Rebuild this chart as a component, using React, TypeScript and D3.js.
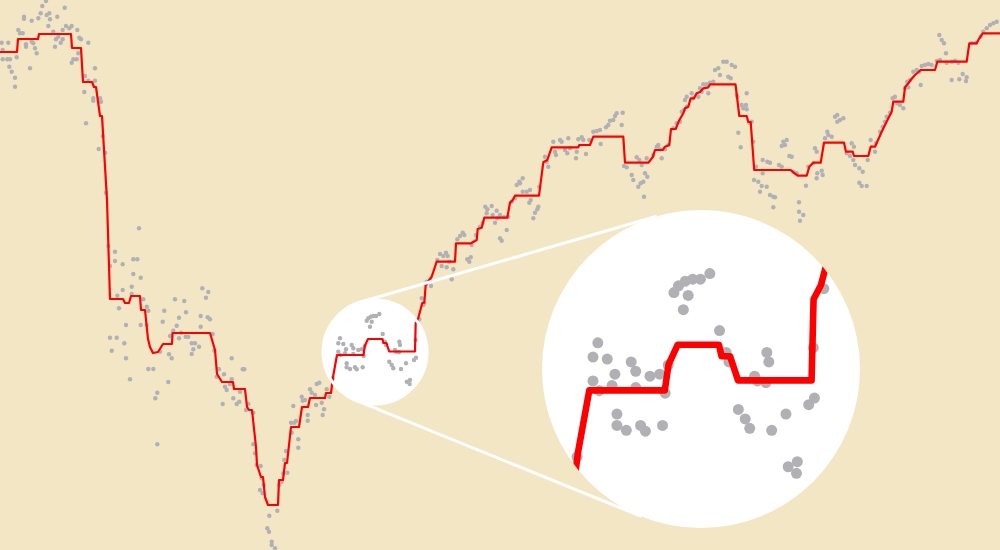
import React from "react";
import * as d3 from "d3";

const W = 1000;
const H = 550;

// Step-like trend line (x = day index, y = depth value)
const trendX = [0,17,18,38,39,71,72,81,83,92,94,96,100,102,107,110,123,125,129,131,140,141,145,148,150,153,158,163,172,172.5,210,215,217,222,233,234,245,247,249,252,256,257,261,263,265,268,278,279,283,285,287,291,299,302,308,310,325,326,331,333,337,363.5,364.8,368,382.5,383.4,386.4,389.2,415,415.7,418.3,422.3,424.3,425.7,431.7,436.7,455,456,471,476.7,477.7,481.7,484.3,507.3,510,512.3,515,539,543.3,547.3,551.7,578.3,579.3,590,593.3,623.3,625,648.3,652.7,655,662.7,665,669.3,671,675.7,679,683.3,685,688.3,690.7,694,696.7,700,703.3,708.3,710,735.5,739.3,746.7,748.3,750.7,754.2,790.7,793.3,797.7,806.7,809.3,813.3,820.7,824,844,846,852.7,854,868.3,870.7,875,881.7,888.3,891.7,893.3,903.3,905,908.3,910.7,915,920.7,935,937.3,966.7,969.3,976.7,979.3,982.7,1000];
const trendY = [52,52,39,39,34,34,48,48,82,82,87,87,116,116,200,299,299,303,303,296,296,310,310,339,347,353,352,344,344,333,333,350,374,382,382,389,389,407,410,410,447,465,477,477,497,505,505,480,480,463,463,427,427,407,407,398,398,393,393,377,355,355,346,339,339,343,343,351.5,351.5,323,318,303,302.7,285,276.7,261.7,261.7,243.3,243.3,240,229,227.7,217.7,217.7,202.7,200.7,195.7,195.7,162.3,160,147.3,147.3,145,145,136.7,136.7,162.7,162.7,157.3,150,150,146.7,145,129,129,120.7,113.3,108.3,106.7,98.3,98.3,93.3,92,88.3,87.3,84.3,84.3,116,116,122,122,170,170,172.3,175.7,175.7,166.7,162.7,162.7,142.7,142.7,151.7,151.7,156,156,146.7,146.7,131.7,118.3,111.7,101.7,101.7,87.3,83.3,80,75,70,70,61.7,61.7,43.3,43.3,38.3,33.3,33.3];

// Scattered observations [x, y]
const observations: [number, number][] = [
  [1.7,42.7],[8.3,42.7],[2.7,50],[2.7,59.3],[7.3,59.3],[10,59.3],[9.3,66.7],[11.7,71.7],[15,77.7],[15,86.7],[16.7,57.3],[18.3,30],[20,33.3],[22.7,33.3],[24,16.7],[24,18.7],[26,44.3],[26,46.7],[30,68.3],[31.7,20.7],[31.7,41.7],[33.3,43.3],[35,48.3],[36.7,53.3],[38.3,18.3],[40.7,13.3],[42.3,6],[46,1],[46.7,15],[49.3,13.3],[50,19.3],[48.3,26],[53.3,31.7],[55,46.7],[56,39.3],[57.3,16.7],[58.3,36.7],[60.7,42.7],[62.7,39.3],[62.7,30],[64.7,7.7],[66,26],[69.3,28.3],[71.7,26],[77.3,30],[79.3,37.7],[81,39.3],[88.3,42.7],[78.3,53.3],[76.7,59.3],[73.3,59.3],[71.7,62.7],[85,76],[95,68.3],[95,80.7],[88.3,80.7],[84.3,92],[93.3,98.3],[93.3,100.7],[100,98.3],[101,101.7],[86,123.3],[102.7,136],[98.7,149],[105.3,152.7],[106,192.7],
  [139,228.3],[108.3,246],[115,251.7],[115,261],[110,266],[122.7,264.3],[133.3,259.3],[137.3,259.3],[133.3,274],[140.7,277.7],[131.7,286.7],[122.7,290],[117.3,295.7],[131.7,294],[143.3,299.3],[119,308.3],[146.7,306.7],[148.3,310.7],[126,325],[140.7,325],[146.7,325],[110,337.7],[116.7,337.7],[111.7,350.7],[124.3,343.3],[126,358.3],[148.3,369],[153.3,369],[130,379.3],[160,351.7],[162.7,321.7],[164.3,310.7],[170,336],[169,354.3],[171.7,358.3],[173.3,330.7],[176.7,325.7],[179,317.7],[175,299.3],[184.3,301],[186,312.3],[179,338.3],[181,332.7],[185.7,336.7],[188.3,336.7],[191.7,343.3],[195,343.3],[193.3,349.3],[191.7,354],[199,346.7],[200.7,326.7],[200.7,316],[207.7,317.3],[210,319.3],[202.3,288.3],[208.3,292],[206,297.7],[212.7,334],[214.3,350.7],[231.7,358.3],[242.7,369.3],[244.3,369.3],[216.7,376.7],[224,374.3],[231.7,379.3],
  [157.3,392.7],[155.3,398.3],[157.3,444.3],[168.3,382],[225,386.7],[226.7,390],[233.3,398.3],[236.7,404],[239.3,401.7],[222.7,404],[248.3,404],[246,410],[253.3,412.7],[253.3,444.3],[255,453.3],[256.7,465],[219,369.3],[218.3,369],[230,384],[240,391.7],
  [260.7,466],[261.7,478.3],[264,485],[260,490],[262.7,493.3],[269.3,515.7],[277.3,510.7],[267.3,528.3],[269,531.7],[271.7,541.7],[271.7,545],[275,548.3],[279.3,485],[281.7,481.7],[283.3,473.3],[287.3,472.7],[284.3,460],[286,451],[291.7,432.7],[298.3,439.3],[298.3,447.7],[291,422.7],[294.3,422.7],[296,421],[293.3,406],[301.7,396.7],[302.7,400.7],[305,400],[307.7,415],[307.7,420.7],[310,389.3],[311.7,392.7],[315,395],[316.7,384],[319.3,382.7],[316,405],[321.7,402.7],[324,409.3],[322.7,415],[326.7,389.3],[329.3,396.7],[332.7,378.3],
  [340,338.3],[338.3,343.3],[343.3,344],[346,349.3],[338.3,351.7],[340.5,355.1],[345,353.3],[351.7,345],[353.3,348.3],[353.3,354],[358.3,350],[361.7,349.3],[346.7,363.3],[346.7,367.3],[350,369],[355,367.3],[356.7,369.3],[362.7,367.3],[363.6,356],[364.7,346.1],[368.3,318.3],[370.7,316.7],[373.3,316],[376,316],[379.3,314],[371.7,321.7],[366.7,320.7],[370,326.7],[382.7,334],[385,341.7],[386,345],[399.3,341.7],[400,345],[399,352.3],[395,350],[396,351.7],[389.3,361.7],[391.7,365],[393.3,368.3],[401,369],[406,363.3],[414,360],[416,357.7],[406.8,381.8],[409.7,384.1],[410,380],[415.6,340],[423.3,305],[421.7,298.3],[419.3,319.3],
  [424,303.3],[426.7,281.7],[426,284],[431,286],[430,280],[451.7,279.3],[437.3,260],[440,254],[443.3,256],[446,252.7],[447.7,256],[441.7,266],[446.7,267.3],[453.3,269.3],[449.3,261.7],[457.3,239.3],[460,236],[462.7,232.7],[464.3,235],[467.3,259.3],[469.3,261.7],[470.7,257.3],[471.7,245],[476,235],[480,226.7],[482.7,222.7],[485.3,206.7],[487.3,209.3],[491.7,206],[486.7,213.3],[492.7,215],[496.7,210.7],[497.3,218.3],[500,215],[504,217.3],[508.3,216.7],[495,222.7],[506.7,230],[500,238.3],[501.7,240.7],[511.7,201.7],[515,198.3],[516.7,185],[520,183.3],[522.7,191.7],[526.7,191.7],[530,190],[530.7,200],[529.3,202.7],[537.3,209.3],[535,212.7],[533.3,218.3],[538.3,206.7],[519.3,181.7],[522.7,178.3],
  [539.3,186.7],[545,156.7],[546.7,161.7],[548.3,166.7],[553.3,141.7],[555,151.7],[556,155],[560,140],[561.7,141.7],[565,150],[567.3,153.3],[568.3,138.3],[570,148.3],[576,158.3],[576.7,151.7],[578.3,139.3],[581.7,137.3],[583.3,140],[586,154],[589.3,140],[593.3,131.7],[596.7,131],[600,130],[600.7,144],[606,127.3],[608.3,125],[610,120.7],[613.3,120],[615,116],[616.7,113.3],[622.7,112.7],[621.7,125],[624,166],[626.7,167.3],[631.7,175],[633.3,180],[636.7,157.3],[639.3,160],[641.7,165],[638.3,186.7],[640.7,183.3],[643.3,181.7],[645,173.3],[647.3,176.7],[644,196.7],[646.7,158.3],[653.3,155],[656.7,146.7],[658.3,145],[660,149.3],[661.7,158.3],[665,149.3],[668.3,145],[673.3,128.3],[676.7,123.3],[680,121.7],[681.7,111.7],[686.7,106.7],[684,110],[685,100],[686.7,96.7],[691.7,93.3],[693.3,98.3],[696.7,95],[698.3,96.7],[700,88.3],[701.7,91.7],[703.3,84.3],[706.7,84.3],[710,82.7],[713.3,81.7],[708.3,93.3],[715,70],[718.3,68.3],[720,75],[723.3,61.7],[726.7,61.7],[731.7,65],[735,66.7],[728.3,76.7],[730.7,78.3],[736.7,95],[737.3,96.7],[741.7,105],[743.3,108.3],[746.7,93.3],[746,105],[746.7,109.3],[751.7,121.7],[749.3,122.7],[738.3,132.7],[740.7,147.3],[753.3,141.7],[756,166.7],[762.7,160],[767.3,161.7],[770,162.7],[762.7,173.3],[754,180],[758.3,181.7],[761.7,186],[760,191.7],[766.7,186.7],[770,195],[773.3,196.7],[773.3,207.3],
  [775,197.3],[779,165],[781.7,166.7],[783.3,141.7],[786.7,140],[785,145],[781.7,146],[789.3,156],[791.7,156.7],[793.3,171.7],[796.7,173.3],[806,185.7],[799,202.3],[799,211.7],[800,220.7],[803.3,215],[808.3,166.7],[813.3,163.3],[815,148.3],[816.7,151.7],[817.3,173.3],[821.7,170.7],[816.7,178.3],[822.7,175],[825,138.3],[827.3,131.7],[828.3,135],[831.7,136.7],[835,116.7],[837.3,115],[840,120],[843.3,118.3],[837.3,121.7],[846.7,153.3],[850,156],[851.7,143.3],[854,146.7],[853.3,160],[855,165],[859.3,168.3],[862.7,171.7],[859.3,182.7],[861.7,186],[866.7,186],[867.7,160],[870.7,140],[875,151.7],[876,143.3],[880,131.7],[882.7,126.7],[885,121.7],[886.7,116.7],[890,112.7],[892.7,98.3],[895,96.7],[897.3,103.3],[900,105],[903.3,108.3],[905,88.3],[907.3,81.7],[910,80],[908.3,87.3],[913.3,71.7],[916.7,70],[919.3,71.7],[921.7,66],[925,65],[928.3,64],[931.7,65],[920.7,85],[936.7,61],[940,60],[946.7,62.7],[951.7,61.7],[955,60.7],[958.3,62.7],[939.3,35],[941.7,40],[944,43.3],[946,53.3],[951.7,80],[959.3,79.3],[962.7,74],[966,81],[966.7,77.3],[971.7,43.3],[976,42.7],[980.7,36.7],[983.3,31.7],[986.7,28.3],[990,25],[993.3,23.3],[996.7,21.7]
];

const BG = "#f2e6c5";
const DOT = "#b1b1b5";
const RED = "#ff0000";

// Lens geometry
const small = { cx: 375, cy: 352, r: 52 };
const big = { cx: 701, cy: 369, r: 159 };
const focus = { cx: 376.2, cy: 347.5 };
const zoomK = 2.85;

function outerTangents(c1: { cx: number; cy: number; r: number }, c2: { cx: number; cy: number; r: number }) {
  const dx = c2.cx - c1.cx;
  const dy = c2.cy - c1.cy;
  const d = Math.hypot(dx, dy);
  const theta = Math.atan2(dy, dx);
  const alpha = Math.acos((c1.r - c2.r) / d);
  return [theta - alpha, theta + alpha].map((a) => {
    const ux = Math.cos(a);
    const uy = Math.sin(a);
    return [c1.cx + c1.r * ux, c1.cy + c1.r * uy, c2.cx + c2.r * ux, c2.cy + c2.r * uy];
  });
}

function Marks({
  x,
  y,
  dotR,
  lineW,
}: {
  x: d3.ScaleLinear<number, number>;
  y: d3.ScaleLinear<number, number>;
  dotR: number;
  lineW: number;
}) {
  const line = d3
    .line<number>()
    .x((_, i) => x(trendX[i]))
    .y((_, i) => y(trendY[i]))
    .curve(d3.curveLinear);
  return (
    <g>
      {observations.map((d, i) => (
        <circle key={i} cx={x(d[0])} cy={y(d[1])} r={dotR} fill={DOT} />
      ))}
      <path d={line(trendX) || ""} fill="none" stroke={RED} strokeWidth={lineW} strokeLinejoin="round" />
    </g>
  );
}

export default function App() {
  const x = d3.scaleLinear().domain([0, 1000]).range([0, W]);
  const y = d3.scaleLinear().domain([0, 550]).range([0, H]);
  const tangents = outerTangents(small, big);
  return (
    <svg
      width={W}
      height={H}
      style={{ position: "absolute", left: 0, top: 0, display: "block" }}
      xmlns="http://www.w3.org/2000/svg"
    >
      <defs>
        <clipPath id="lensClip">
          <circle cx={big.cx} cy={big.cy} r={big.r} />
        </clipPath>
      </defs>
      <rect x={0} y={0} width={W} height={H} fill={BG} />
      <circle cx={small.cx} cy={small.cy} r={small.r} fill="#fff" />
      <Marks x={x} y={y} dotR={2.2} lineW={2.2} />
      <circle cx={small.cx} cy={small.cy} r={small.r} fill="none" stroke="#fff" strokeWidth={3} />
      {tangents.map((t, i) => (
        <line key={i} x1={t[0]} y1={t[1]} x2={t[2]} y2={t[3]} stroke="#fff" strokeWidth={3} />
      ))}
      <circle cx={big.cx} cy={big.cy} r={big.r} fill="#fff" />
      <g clipPath="url(#lensClip)">
        <g transform={`translate(${big.cx},${big.cy}) scale(${zoomK}) translate(${-focus.cx},${-focus.cy})`}>
          <Marks x={x} y={y} dotR={5.5 / zoomK} lineW={6.6 / zoomK} />
        </g>
      </g>
    </svg>
  );
}
